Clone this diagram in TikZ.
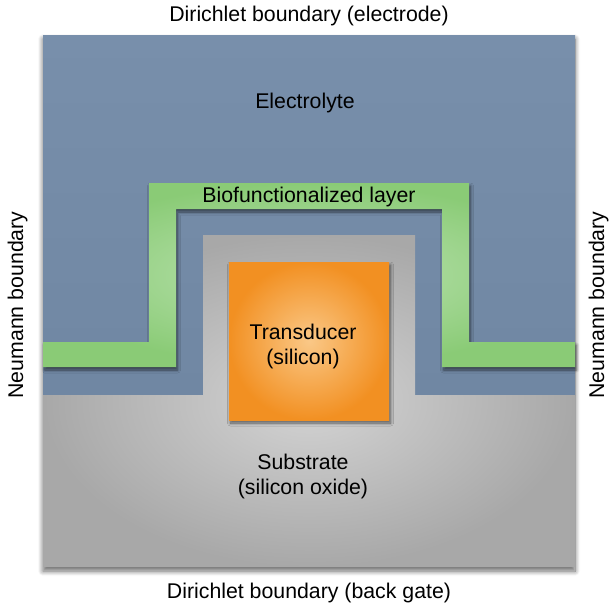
\documentclass[tikz,border=0pt]{standalone}
\usepackage{fontspec}
\setmainfont{Liberation Sans}
\usetikzlibrary{shadows.blur}
\definecolor{elecblue}{RGB}{112,135,163}
\definecolor{elecbluetop}{RGB}{120,143,171}
\definecolor{greenin}{RGB}{190,228,180}
\definecolor{greenout}{RGB}{138,203,118}
\definecolor{grayin}{RGB}{212,212,212}
\definecolor{grayout}{RGB}{168,168,168}
\definecolor{orangein}{RGB}{250,200,135}
\definecolor{orangeout}{RGB}{242,144,34}
\tikzset{
  lbl/.style={font=\fontsize{21.3}{25}\selectfont, text=black, inner sep=0pt, align=center},
  softshadow/.style={blur shadow={shadow xshift=1.5pt, shadow yshift=-3pt, shadow blur steps=8, shadow blur radius=3pt, shadow opacity=55}},
}
\begin{document}
\begin{tikzpicture}[x=1pt,y=-1pt]
\useasboundingbox (0,0) rectangle (609,608);
% whole domain with shadow
\path[fill=elecblue, blur shadow={shadow xshift=0pt, shadow yshift=-4pt, shadow blur steps=10, shadow blur radius=5pt, shadow opacity=60}] (43,35) rectangle (575,567);
% electrolyte
\path[top color=elecbluetop, bottom color=elecblue] (43,35) rectangle (575,395);
% substrate
\path[inner color=grayin, outer color=grayout]
  (43,395) -- (203,395) -- (203,235) -- (415,235) -- (415,395) -- (575,395) -- (575,567) -- (43,567) -- cycle;
% biofunctionalized layer
\path[inner color=greenin, outer color=greenout, softshadow]
  (43,342) -- (149,342) -- (149,183) -- (469,183) -- (469,342) -- (575,342) -- (575,367)
  -- (442,367) -- (442,209) -- (176,209) -- (176,367) -- (43,367) -- cycle;
% transducer
\path[inner color=orangein, outer color=orangeout, softshadow] (229,262) rectangle (389,420);
% labels
\node[lbl] (top) at (309,15.5) {Dirichlet boundary (electrode)};
\node[lbl] (bottom) at (309,593) {Dirichlet boundary (back gate)};
\node[lbl, rotate=90] (left) at (17.5,305) {Neumann boundary};
\node[lbl, rotate=90] (right) at (598.5,305) {Neumann boundary};
\node[lbl] (electrolyte) at (305,103) {Electrolyte};
\node[lbl] (bio) at (309,197) {Biofunctionalized layer};
\node[lbl] (trans) at (303,346) {Transducer\\(silicon)};
\node[lbl] (sub) at (303,476) {Substrate\\(silicon oxide)};
\end{tikzpicture}
\end{document}
